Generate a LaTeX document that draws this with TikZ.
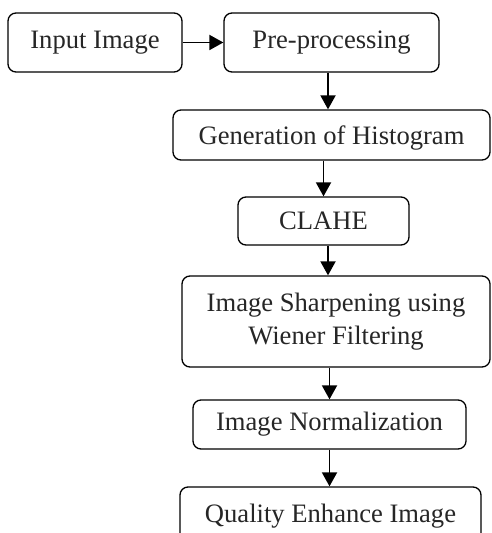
\documentclass[tikz,border=0pt]{standalone}
\usepackage{fontspec}
\setmainfont{Liberation Serif}
\usepackage{tikz}
\usetikzlibrary{arrows.meta,positioning,calc}

\tikzset{
  box/.style={draw, rounded corners=4pt, line width=0.65pt, inner sep=0pt,
    align=center, text=black!85},
  arr/.style={-{Triangle[length=7pt,width=7.5pt]}, line width=0.95pt}
}

\begin{document}
\begin{tikzpicture}[x=0.5pt,y=-0.5pt,font=\fontsize{13.3}{16.5}\selectfont]
% page frame
\useasboundingbox (0,0) rectangle (491,533);
\clip (0,0) rectangle (491,533);
% boxes
\node[box, minimum width=87pt, minimum height=29.5pt] (inp) at (95,42.5) {Input Image};
\node[box, minimum width=107.5pt, minimum height=29.5pt] (pre) at (331.5,42.5) {Pre-processing};
\node[box, minimum width=158.5pt, minimum height=25pt, text height=12pt] (gen) at (331.5,135) {Generation of Histogram};
\node[box, minimum width=85.5pt, minimum height=24pt] (clahe) at (323.5,221) {CLAHE};
\node[box, minimum width=154pt, minimum height=45.5pt] (sharp) at (336,321.5) {Image Sharpening using\\Wiener Filtering};
\node[box, minimum width=136.5pt, minimum height=24.5pt] (norm) at (329.5,424.5) {Image Normalization};
\node[box, minimum width=150.5pt, minimum height=29pt] (qual) at (330.5,516) {Quality Enhance Image};
% arrows
\draw[arr] (inp) -- (pre);
\draw[arr] ($(pre.south)+(-3.5,0)$) -- ($(pre.south |- gen.north)+(-3.5,0)$);
\draw[arr] (clahe.north |- gen.south) -- (clahe.north);
\draw[arr] ($(clahe.south)+(4.5,0)$) -- ($(clahe.south |- sharp.north)+(4.5,0)$);
\draw[arr] (norm.north |- sharp.south) -- (norm.north);
\draw[arr] (norm.south) -- (norm.south |- qual.north);
\end{tikzpicture}
\end{document}
